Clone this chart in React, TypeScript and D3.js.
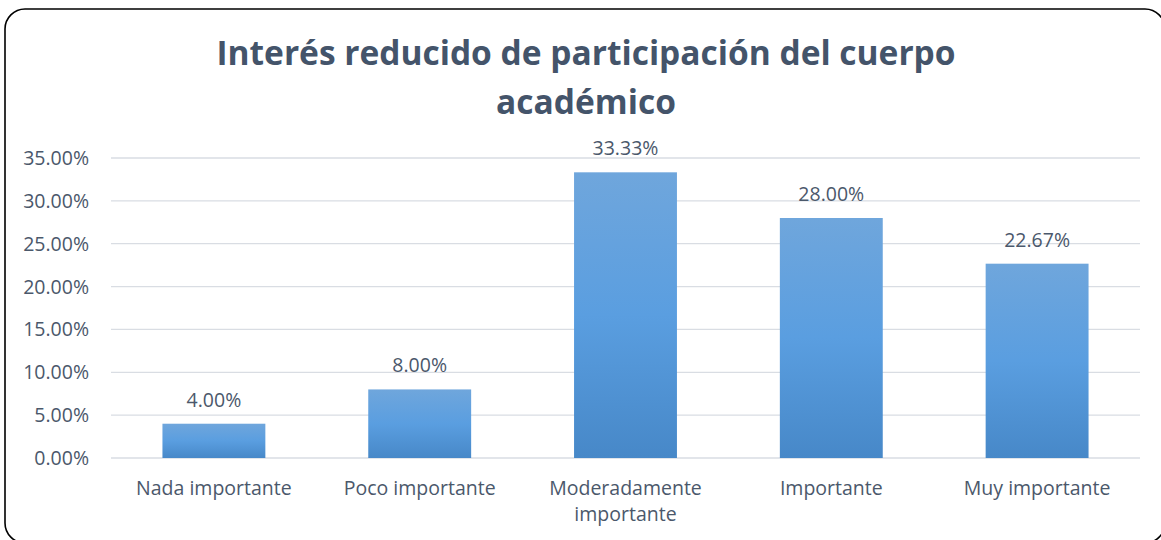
import React from "react";
import * as d3 from "d3";

const categories = ["Nada importante", "Poco importante", "Moderadamente importante", "Importante", "Muy importante"];
const categoryLines = [["Nada importante"], ["Poco importante"], ["Moderadamente", "importante"], ["Importante"], ["Muy importante"]];
const values = [4.0, 8.0, 33.33, 28.0, 22.67];
const yTicks = [0, 5, 10, 15, 20, 25, 30, 35];
const titleLines = ["Interés reducido de participación del cuerpo", "académico"];

const W = 1161;
const H = 540;
const plot = { left: 111, right: 1140, top: 158, bottom: 458 };
const font = "'Open Sans', 'Noto Sans', sans-serif";
const textColor = "#44546A";
const tickColor = "#4B586B";
const fs = 19.5;

export default function App() {
  const x = d3.scaleBand<string>().domain(categories).range([plot.left, plot.right]).paddingInner(0.5).paddingOuter(0.25);
  const y = d3.scaleLinear().domain([0, 35]).range([plot.bottom, plot.top]);
  return (
    <svg width={W} height={H} style={{ position: "absolute", left: 0, top: 0 }}>
      <defs>
        <linearGradient id="barGrad" x1="0" y1="0" x2="0" y2="1">
          <stop offset="0" stopColor="#6FA6DC" />
          <stop offset="0.5" stopColor="#5A9EE0" />
          <stop offset="1" stopColor="#4788C8" />
        </linearGradient>
      </defs>
      <rect x={0} y={0} width={W} height={H} fill="#fff" />
      <rect x={5} y={9} width={1160} height={534} rx={20} ry={20} fill="#fff" stroke="#000" strokeWidth={1.6} />
      {titleLines.map((t, i) => (
        <text key={i} x={586} y={65 + i * 49} textAnchor="middle" fontFamily={font} fontWeight="bold" fontSize={33.5} fill={textColor}>{t}</text>
      ))}
      {yTicks.map((t) => (
        <g key={t}>
          <line x1={plot.left} x2={plot.right} y1={y(t)} y2={y(t)} stroke="#D9DDE3" strokeWidth={1.3} />
          <text x={89} y={y(t) + 7} textAnchor="end" fontFamily={font} fontSize={fs} fill={tickColor}>{t.toFixed(2)}%</text>
        </g>
      ))}
      {categories.map((c, i) => (
        <g key={c}>
          <rect x={x(c)} y={y(values[i])} width={x.bandwidth()} height={y(0) - y(values[i])} fill="url(#barGrad)" />
          <text x={(x(c) as number) + x.bandwidth() / 2} y={y(values[i]) - 17} textAnchor="middle" fontFamily={font} fontSize={fs} fill={tickColor}>{values[i].toFixed(2)}%</text>
          {categoryLines[i].map((l, j) => (
            <text key={j} x={(x(c) as number) + x.bandwidth() / 2} y={495 + j * 26} textAnchor="middle" fontFamily={font} fontSize={fs} fill={tickColor}>{l}</text>
          ))}
        </g>
      ))}
    </svg>
  );
}
